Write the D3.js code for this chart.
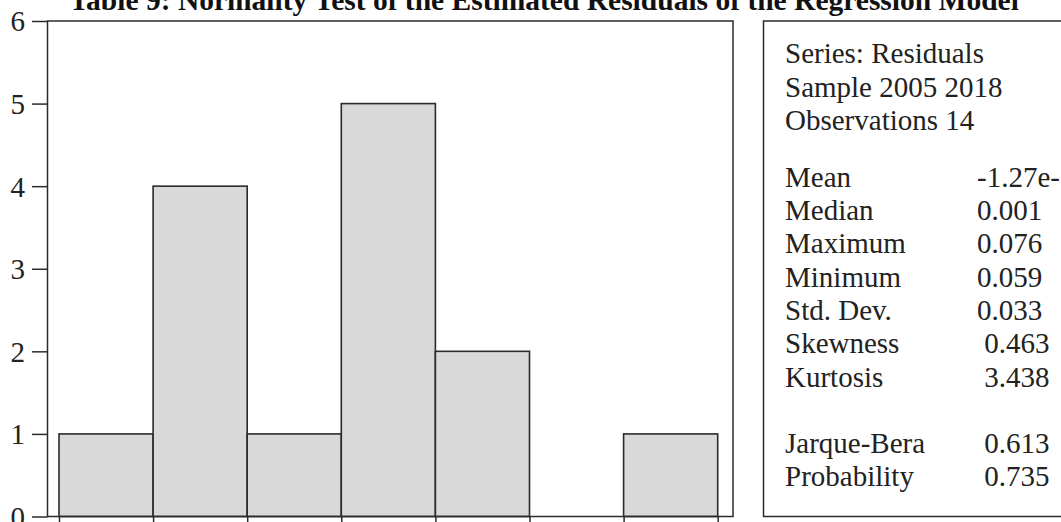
<!DOCTYPE html>
<html>
<head>
<meta charset="utf-8">
<script src="https://cdn.jsdelivr.net/npm/d3@7/dist/d3.min.js"></script>
<style>
  html, body { margin: 0; padding: 0; background: #fff; overflow: hidden; }
  svg { display: block; font-family: "Liberation Serif", "Times New Roman", serif; }
  .stat { white-space: pre; }
</style>
</head>
<body>
<svg id="chart" width="1061" height="522"></svg>
<script>
// ---- data ----
const title = "Table 9: Normality Test of the Estimated Residuals of the Regression Model";
const binEdges = [-0.06, -0.04, -0.02, 0.00, 0.02, 0.04, 0.06, 0.08];
const counts = [1, 4, 1, 5, 2, 0, 1];
const yTicks = [0, 1, 2, 3, 4, 5, 6];
const headerLines = ["Series: Residuals", "Sample 2005 2018", "Observations 14"];
const statLabels = ["Mean", "Median", "Maximum", "Minimum", "Std. Dev.", "Skewness", "Kurtosis"];
const statValues = ["-1.27e-", "0.001", "0.076", "0.059", "0.033", " 0.463", " 3.438"];
const testLabels = ["Jarque-Bera", "Probability"];
const testValues = [" 0.613", " 0.735"];

// ---- layout ----
const svg = d3.select("#chart");
const frame = { left: 47.5, right: 733, top: 21, bottom: 516.5 };
const box = { left: 763.5, right: 1075, top: 21, bottom: 516.5 };
const ink = "#2b2b2b";

const x = d3.scaleLinear().domain([-0.06, 0.08]).range([59, 717.7]);
const y = d3.scaleLinear().domain([0, 6]).range([frame.bottom, frame.top]);

// title
svg.append("text")
  .attr("x", 544).attr("y", 10)
  .attr("text-anchor", "middle")
  .attr("font-weight", "bold")
  .attr("font-size", 29.5)
  .attr("fill", "#111")
  .text(title);

// bars
const bins = counts.map((c, i) => ({ x0: binEdges[i], x1: binEdges[i + 1], c }));
svg.append("g").selectAll("rect")
  .data(bins.filter(d => d.c > 0))
  .join("rect")
  .attr("x", d => x(d.x0))
  .attr("y", d => y(d.c))
  .attr("width", d => x(d.x1) - x(d.x0))
  .attr("height", d => y(0) - y(d.c))
  .attr("fill", "#d9d9d9")
  .attr("stroke", ink)
  .attr("stroke-width", 1.6);

// frame
svg.append("rect")
  .attr("x", frame.left).attr("y", frame.top)
  .attr("width", frame.right - frame.left)
  .attr("height", frame.bottom - frame.top)
  .attr("fill", "none")
  .attr("stroke", ink)
  .attr("stroke-width", 1.5);

// y axis
const yAxis = svg.append("g")
  .attr("transform", `translate(${frame.left},0)`)
  .call(d3.axisLeft(y).tickValues(yTicks).tickSize(15.5).tickPadding(7).tickFormat(d3.format("d")));
yAxis.select(".domain").remove();
yAxis.selectAll(".tick line").attr("stroke", ink).attr("stroke-width", 1.5);
yAxis.selectAll(".tick text")
  .attr("font-family", "Liberation Serif, serif")
  .attr("font-size", 29)
  .attr("fill", "#222")
  .attr("dy", "0.34em");

// x axis ticks (labels fall outside the visible area)
const xAxis = svg.append("g")
  .attr("transform", `translate(0,${frame.bottom})`)
  .call(d3.axisBottom(x).tickValues(binEdges).tickSize(12).tickFormat(""));
xAxis.select(".domain").remove();
xAxis.selectAll(".tick line").attr("stroke", ink).attr("stroke-width", 1.5);

// stats box
svg.append("rect")
  .attr("x", box.left).attr("y", box.top)
  .attr("width", box.right - box.left)
  .attr("height", box.bottom - box.top)
  .attr("fill", "none")
  .attr("stroke", ink)
  .attr("stroke-width", 1.5);

const textX = 785, valX = 977, fs = 29;
const g = svg.append("g").attr("font-size", fs).attr("fill", "#222");
const headerY = [63, 96.5, 129.5];
g.selectAll("text.hdr").data(headerLines).join("text")
  .attr("class", "hdr").attr("x", textX).attr("y", (d, i) => headerY[i]).text(d => d);

const statY0 = 186.7, lh = 33.35;
g.selectAll("text.sl").data(statLabels).join("text")
  .attr("class", "sl").attr("x", textX).attr("y", (d, i) => statY0 + i * lh).text(d => d);
g.selectAll("text.sv").data(statValues).join("text")
  .attr("class", "sv stat").attr("x", valX).attr("y", (d, i) => statY0 + i * lh).text(d => d);

const testY0 = 453;
g.selectAll("text.tl").data(testLabels).join("text")
  .attr("class", "tl").attr("x", textX).attr("y", (d, i) => testY0 + i * lh).text(d => d);
g.selectAll("text.tv").data(testValues).join("text")
  .attr("class", "tv stat").attr("x", valX).attr("y", (d, i) => testY0 + i * lh).text(d => d);
</script>
</body>
</html>
